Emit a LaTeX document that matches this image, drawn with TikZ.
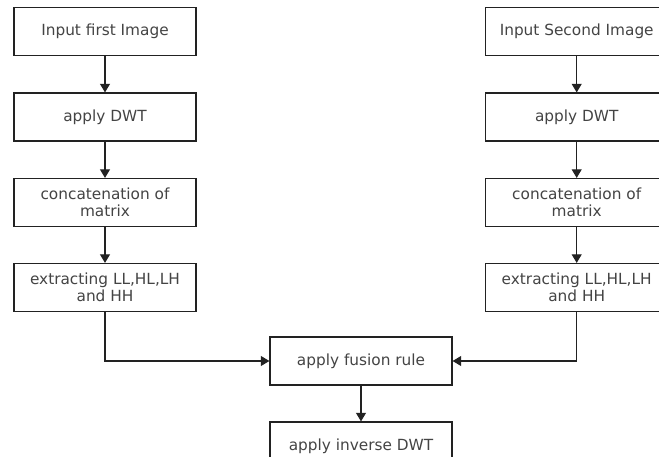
\documentclass[tikz,border=0pt]{standalone}
\usepackage{fontspec}
\setmainfont{DejaVu Sans}
\usetikzlibrary{arrows.meta}
\definecolor{txt}{HTML}{444444}
\definecolor{ln}{HTML}{222222}
\begin{document}
\begin{tikzpicture}[x=0.75pt,y=-0.75pt,
  box/.style={draw=ln,line width=0.85pt,fill=white,minimum width=136.5pt,minimum height=36pt,
    inner sep=2pt,align=center,text=txt,font=\fontsize{11.5}{12.5}\selectfont},
  conn/.style={draw=ln,line width=0.85pt,-{Triangle[length=6.5pt,width=7.5pt]}}]
\clip (0,0) rectangle (659,456);
\fill[white] (0,0) rectangle (659,456);
\node[box] (l1) at (105,31.5) {Input first Image};
\node[box] (l2) at (105,117) {apply DWT};
\node[box] (l3) at (105,202.5) {concatenation of\\matrix};
\node[box] (l4) at (105,287.5) {extracting LL,HL,LH\\and HH};
\node[box] (r1) at (576.7,31.5) {Input Second Image};
\node[box] (r2) at (576.7,117) {apply DWT};
\node[box] (r3) at (576.7,202.5) {concatenation of\\matrix};
\node[box] (r4) at (576.7,287.5) {extracting LL,HL,LH\\and HH};
\node[box] (f) at (361,361) {apply fusion rule};
\node[box] (inv) at (361,446) {apply inverse DWT};
\draw[conn] (l1) -- (l2);
\draw[conn] (l2) -- (l3);
\draw[conn] (l3) -- (l4);
\draw[conn] (r1) -- (r2);
\draw[conn] (r2) -- (r3);
\draw[conn] (r3) -- (r4);
\draw[conn] (l4.south) |- (f.west);
\draw[conn] (r4.south) |- (f.east);
\draw[conn] (f) -- (inv);
\end{tikzpicture}
\end{document}
